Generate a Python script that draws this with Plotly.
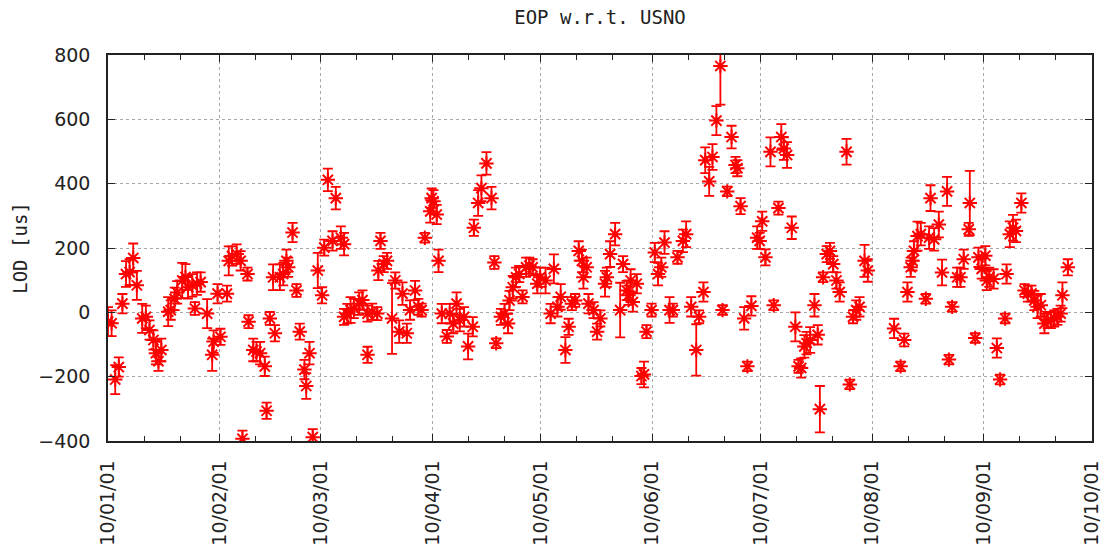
import pandas as pd
import plotly.graph_objects as go

# Data: days after 2010-01-01, LOD difference [us], error [us]
days = [0, 1, 2, 3, 4, 5, 6, 7, 8, 9.5, 10.5, 11.5, 12.6, 13.3, 14, 14.8, 16.7, 17.4, 18.5, 19.2,
        20.6, 21.5, 22.2, 23.4, 24.1, 24.7, 25.7, 27.5, 28.9, 29.3, 30.4, 31.2, 33, 33.5, 34.4,
        35.7, 36.8, 37.3, 38.7, 39, 40.3, 41.2, 42.2, 43.5, 44, 44.9, 45.8,
        46.3, 47.7, 48.6, 49.5, 50, 51.2, 52.3, 53.2, 54.5, 55, 55.9, 56.8, 58.2, 59.4, 60, 61,
        62.3, 63.2, 64.6, 65.5, 65.5, 66.4, 67.3, 68.2, 69.7, 70.6, 72, 72, 73.3, 74.7, 75, 75.6,
        76.5, 77.4, 78.8, 79.7, 80.8, 81.7, 82.9, 83.8, 85.2, 86.1, 87, 87.9, 89.4, 89.8,
        90.3, 91.2, 91.7, 92.6, 94, 94.8, 95.8, 96.7, 97.6, 98.8, 99.9, 101.2, 101.5, 102.7,
        103.6, 105, 106.4, 107.2, 107.7, 109, 110, 111, 111.4, 112.3, 113.2, 114.1, 115, 116,
        116.9, 117.8, 119.1, 119.9, 121.4, 122.8, 123.7, 124.7, 125.6, 126.9, 127.8, 128.7,
        129.6, 130.6, 131.5, 131.9, 132.8, 133.3,
        134.7, 135.7, 136.6, 137.9, 138.4, 139.3, 140.7, 142.1, 142.9, 143.9, 144.4, 145, 145.6,
        146.7, 148, 148.7, 149.4, 150.8, 151.7, 152.6, 153.5, 154.4, 155.8, 156.7, 158, 159.5,
        160.4, 161.8, 163.2, 164, 165.2, 165.7, 166.8, 167.7, 168.8, 169.9, 170.5, 171.8, 173,
        174.1, 174.6, 175.5, 176.5, 177.4, 178.5,
        180.1, 180.8, 181.5, 182.4, 183.8, 184.7, 186, 186.8, 187.5, 188.4, 189.7, 190.7, 191.6,
        192.3, 193.2, 193.8, 194.8, 196, 196.9, 197.5, 198.4, 199.4, 200.3, 201.2, 202.1, 203,
        204.9, 205.8, 206.7, 207.6, 208.5, 209.9, 210.8,
        218.1, 219.9, 220.9, 221.8, 222.7, 223.2, 223.6, 224.6, 225.5, 226.9, 227.8, 228.2,
        229.2, 230.5, 231.4, 232.8, 233.3, 234.2, 235.6, 236.5, 237.4, 238.8, 239.1, 240.6,
        241.5, 242.4, 243.4, 243.8, 244.5, 245.7, 246.6, 247.5, 248.9, 249.3, 250.2, 251.1,
        251.9, 253.4, 254.3, 255.2, 256.2, 257, 257.9, 258.8, 259.8, 260.7, 261.6, 262.5,
        263.4, 264.3, 264.8, 266.3]

lod = [-29, -34, -209, -170, 27, 119, 125, 169, 84, -19, -14, -55, -86, -127, -152, -117, 2, 7, 42, 62,
       99, 110, 78, 84, 12, 89, 94, -4, -132, -91, 58, -76, 58, 160, 175,
       181, 160, -393, 119, -29, -117, -122, -127, -168, -306, -19, 109,
       -65, 109, 119, 160, 140, 248, 68, -60, -178, -229, -127, -388, 130, 53, 201, 412,
       222, 355, 232, 212, -14, -4, 7, 12, 27, 38, -4, -132, 2, -4, 130, 222,
       150, 160, -19, 99, -60, 58, -65, 7, 68, 17, 7, 232, 314, 355,
       345, 304, 160, -4, -75, -4, -35, 27, -24, -14, -106, -45, 263, 340,
       386, 463, 355, 155, -96, -14, -4, -35, 37, 78, 109, 119, 48, 140,
       145, 140, 89, 109, 99, -4, 135, 17, 48, -117, -45, 27,
       37, 191, 160, 109, 140, 27,
       7, -60, -19, 89, 109, 181, 243, 7, 150, 68, 53, 99, 32,
       89, -198, -193, -60, 7, 186, 119, 140, 217, 7, 7, 171, 222,
       243, 17, -117, -14, 63, 473, 407, 483, 596, 766, 7, 376, 545,
       458, 448, 330, -19, -168, 20,
       232, 222, 283, 171, 499, 22, 324, 545, 509, 489, 263, -45, -168,
       -173, -106, -96, -86, 22, -70, -301, 109, 181, 191, 150, 99, 63,
       499, -224, -14, 7, 17, 160, 130,
       -50, -168, -86, 63, 140, 160, 191, 237, 243, 42, 232, 355,
       227, 273, 124, 376, -147, 17, 109, 109, 165, 258, 340, -80,
       171, 135, 176, 99, 109, 104, -111, -209, -19, 119, 243, 263,
       253, 340, 68, 58, 58, 37, 17, 22, -35, -24, -24, -19,
       -14, -4, 53, 140]

err = [45, 40, 45, 30, 30, 40, 40, 45, 45, 45, 35, 30, 30, 35, 30, 35, 45, 30, 35, 35,
       55, 40, 35, 35, 20, 35, 30, 45, 50, 35, 30, 25, 25, 45, 30,
       30, 30, 25, 20, 20, 35, 30, 35, 30, 25, 20, 40,
       25, 40, 35, 35, 30, 30, 20, 25, 30, 40, 35, 25, 55, 25, 25, 35,
       30, 35, 35, 35, 25, 30, 40, 30, 35, 30, 25, 25, 25, 20, 30, 25,
       25, 25, 110, 25, 35, 35, 30, 30, 30, 25, 20, 15, 35, 30,
       35, 30, 35, 30, 20, 30, 30, 35, 35, 30, 40, 30, 25, 40,
       40, 35, 35, 20, 15, 25, 30, 30, 30, 35, 30, 25, 20, 30,
       25, 25, 30, 30, 40, 30, 45, 30, 40, 40, 25, 20,
       20, 30, 35, 35, 30, 30,
       25, 25, 25, 40, 30, 40, 35, 85, 25, 30, 30, 35, 30,
       30, 25, 40, 20, 20, 30, 35, 30, 35, 40, 20, 20, 35,
       40, 30, 80, 20, 30, 40, 45, 40, 45, 120, 15, 15, 35,
       25, 25, 25, 35, 15, 30,
       35, 25, 30, 25, 45, 15, 20, 40, 35, 40, 35, 45, 20,
       30, 35, 35, 40, 35, 30, 72, 15, 25, 25, 25, 25, 30,
       40, 15, 20, 30, 30, 50, 35,
       30, 15, 20, 30, 30, 30, 30, 45, 35, 15, 35, 40,
       35, 40, 40, 45, 15, 15, 30, 30, 30, 20, 100, 15,
       30, 30, 30, 30, 30, 30, 30, 15, 15, 30, 40, 40,
       35, 30, 20, 25, 25, 30, 35, 35, 30, 25, 25, 25,
       25, 25, 40, 25]

start = pd.Timestamp("2010-01-01")
month_starts = pd.date_range("2010-01-01", "2010-10-01", freq="MS")
minor_ticks = [d + pd.Timedelta(days=k) for d in month_starts[:-1] for k in (10, 20)]

dates = start + pd.to_timedelta(days, unit="D")

fig = go.Figure()
fig.add_trace(go.Scatter(
    x=dates, y=lod, mode="markers",
    marker=dict(symbol="asterisk-open", size=12, color="red",
                line=dict(color="red", width=2)),
    error_y=dict(type="data", array=err, visible=True, color="red",
                 thickness=1.8, width=5),
    showlegend=False,
))

tick_font = dict(family="DejaVu Sans", size=19, color="#222")
fig.update_layout(
    width=1114, height=558,
    margin=dict(l=108, r=13, t=55, b=113),
    paper_bgcolor="white", plot_bgcolor="white",
    title=dict(text="EOP w.r.t. USNO", x=0.5, xref="paper", xanchor="center",
               y=1 - 17 / 558, yref="container", yanchor="middle",
               font=dict(family="DejaVu Sans Mono", size=19, color="#222")),
)
fig.update_xaxes(
    type="date", range=[start, month_starts[-1]],
    tickvals=list(month_starts), tickformat="%y/%m/%d", tickangle=-90,
    tickfont=tick_font, ticks="inside", ticklen=7, tickcolor="#222",
    showline=True, linecolor="#222", linewidth=1.5, mirror="allticks",
    showgrid=True, gridcolor="#a8a8a8", griddash="3px,3px", gridwidth=1,
    zeroline=False, ticklabelstandoff=10,
    minor=dict(tickvals=minor_ticks, ticks="inside", ticklen=5, tickcolor="#222",
               showgrid=False),
)
fig.update_yaxes(
    range=[-400, 800], dtick=200, tick0=0,
    tickfont=tick_font, ticks="inside", ticklen=7, tickcolor="#222",
    showline=True, linecolor="#222", linewidth=1.5, mirror="allticks",
    showgrid=True, gridcolor="#a8a8a8", griddash="3px,3px", gridwidth=1,
    zeroline=False, ticklabelstandoff=12,
    title=dict(text="LOD [us]", standoff=6,
               font=dict(family="DejaVu Sans Mono", size=19, color="#222")),
)

fig.write_html("out.html")
